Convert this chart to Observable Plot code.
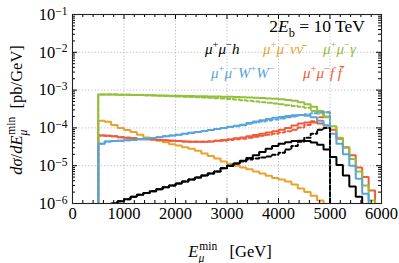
<!DOCTYPE html>
<html><head><meta charset="utf-8">
<script src="https://cdn.jsdelivr.net/npm/d3@7"></script>
<script src="https://cdn.jsdelivr.net/npm/@observablehq/plot@0.6"></script>
<style>
html,body{margin:0;padding:0;background:#fff;}
#chart svg{display:block;}
</style></head><body><div id="chart"></div>
<script>
// ---------- data ----------
const xTicks = [0, 1000, 2000, 3000, 4000, 5000, 6000];
const yTicks = [1e-6, 1e-5, 1e-4, 1e-3, 1e-2, 1e-1];
const binEdges = [500,625,750,875,1000,1125,1250,1375,1500,1625,1750,1875,2000,2125,2250,2375,2500,2625,2750,2875,3000,3125,3250,3375,3500,3625,3750,3875,4000,4125,4250,4375,4500,4625,4750,4875,5000,5125,5250,5375,5500,5625,5750,5875];

// mu+ mu- h
const hSolid = [null,null,1.0e-6,1.15e-6,1.3e-6,1.5e-6,1.7e-6,1.9e-6,2.1e-6,2.4e-6,2.7e-6,3.0e-6,3.4e-6,3.8e-6,4.3e-6,4.9e-6,5.5e-6,6.2e-6,7.0e-6,8.5e-6,1.0e-5,1.15e-5,1.35e-5,1.6e-5,1.9e-5,2.3e-5,2.8e-5,3.3e-5,3.8e-5,4.2e-5,4.5e-5,4.6e-5,4.5e-5,4.1e-5,3.6e-5,2.7e-5,1.7e-5,1.05e-5,5.5e-6,2.8e-6,1.5e-6];
const hDashed = [null,null,1.0e-6,1.15e-6,1.3e-6,1.5e-6,1.7e-6,1.9e-6,2.1e-6,2.4e-6,2.7e-6,3.0e-6,3.4e-6,3.8e-6,4.3e-6,4.9e-6,5.5e-6,6.2e-6,7.0e-6,8.5e-6,1.0e-5,1.15e-5,1.3e-5,1.45e-5,1.55e-5,1.65e-5,1.75e-5,1.95e-5,2.2e-5,2.7e-5,3.3e-5,4.3e-5,5.5e-5,7.0e-5,9.0e-5,1.0e-4];
// mu+ mu- nu nubar
const nnSolid = [1.55e-4,1.45e-4,1.2e-4,1.0e-4,8.8e-5,7.8e-5,6.6e-5,5.6e-5,5.0e-5,4.6e-5,4.2e-5,3.7e-5,3.4e-5,3.1e-5,2.8e-5,2.5e-5,2.1e-5,1.8e-5,1.55e-5,1.3e-5,1.12e-5,1.0e-5,9.0e-6,8.0e-6,7.0e-6,6.2e-6,5.4e-6,4.7e-6,4.3e-6,3.8e-6,3.2e-6,2.5e-6,2.0e-6,1.6e-6,1.2e-6];
// mu+ mu- gamma
const gaSolid = [7.7e-4,7.6e-4,7.6e-4,7.5e-4,7.5e-4,7.4e-4,7.4e-4,7.3e-4,7.3e-4,7.2e-4,7.2e-4,7.1e-4,7.1e-4,7.0e-4,7.0e-4,6.9e-4,6.9e-4,6.8e-4,6.8e-4,6.7e-4,6.7e-4,6.6e-4,6.5e-4,6.4e-4,6.3e-4,6.2e-4,6.0e-4,5.9e-4,5.7e-4,5.5e-4,5.2e-4,4.8e-4,4.2e-4,3.6e-4,2.8e-4,2.0e-4,1.1e-4,5.5e-5,3.0e-5,1.5e-5,7e-6,3e-6,1.2e-6];
const gaDashed = [7.7e-4,7.6e-4,7.6e-4,7.5e-4,7.5e-4,7.4e-4,7.4e-4,7.3e-4,7.2e-4,7.1e-4,7.0e-4,6.9e-4,6.8e-4,6.7e-4,6.6e-4,6.5e-4,6.4e-4,6.3e-4,6.1e-4,6.0e-4,5.8e-4,5.6e-4,5.4e-4,5.2e-4,5.0e-4,4.8e-4,4.6e-4,4.4e-4,4.2e-4,4.0e-4,3.8e-4,3.6e-4,3.4e-4,2.8e-4,2.4e-4,1.9e-4];
// mu+ mu- W+ W-
const wwSolid = [3.8e-5,4.4e-5,4.5e-5,4.6e-5,4.7e-5,4.8e-5,5.0e-5,5.2e-5,5.4e-5,5.7e-5,6.0e-5,6.3e-5,6.6e-5,7.0e-5,7.4e-5,7.8e-5,8.3e-5,8.8e-5,9.4e-5,1.0e-4,1.07e-4,1.14e-4,1.22e-4,1.35e-4,1.48e-4,1.6e-4,1.72e-4,1.85e-4,1.95e-4,2.05e-4,2.15e-4,2.2e-4,2.1e-4,1.9e-4,1.55e-4,1.15e-4,7e-5,3.8e-5,2.0e-5,1.0e-5,4.5e-6,1.8e-6];
const wwDashed = [3.8e-5,4.4e-5,4.5e-5,4.6e-5,4.7e-5,4.8e-5,5.0e-5,5.2e-5,5.4e-5,5.7e-5,6.0e-5,6.3e-5,6.6e-5,7.0e-5,7.4e-5,7.8e-5,8.3e-5,8.8e-5,9.4e-5,1.0e-4,1.05e-4,1.11e-4,1.18e-4,1.28e-4,1.38e-4,1.48e-4,1.58e-4,1.68e-4,1.78e-4,1.9e-4,2.0e-4,2.15e-4,2.3e-4,2.45e-4,2.6e-4,2.6e-4];
// mu+ mu- f fbar
const ffSolid = [6.3e-5,6.2e-5,6.0e-5,5.7e-5,5.5e-5,5.3e-5,5.1e-5,5.0e-5,4.9e-5,4.8e-5,4.7e-5,4.6e-5,4.5e-5,4.4e-5,4.3e-5,4.3e-5,4.3e-5,4.4e-5,4.6e-5,4.8e-5,5.0e-5,5.3e-5,5.6e-5,6.0e-5,6.5e-5,7.0e-5,7.6e-5,8.2e-5,9.0e-5,1.0e-4,1.15e-4,1.3e-4,1.4e-4,1.38e-4,1.3e-4,1.15e-4,9e-5,5.2e-5,3.1e-5,1.9e-5,9e-6,5e-6,2.2e-6];
const ffDashed = [6.3e-5,6.2e-5,6.0e-5,5.7e-5,5.5e-5,5.3e-5,5.1e-5,5.0e-5,4.9e-5,4.8e-5,4.7e-5,4.6e-5,4.5e-5,4.4e-5,4.3e-5,4.3e-5,4.3e-5,4.4e-5,4.6e-5,4.6e-5,4.8e-5,5.0e-5,5.2e-5,5.5e-5,5.8e-5,6.2e-5,6.6e-5,7.0e-5,7.5e-5,8.2e-5,9.0e-5,1.02e-4,1.2e-4,1.5e-4,1.9e-4,2.6e-4];

const colors = {h: "#000000", nn: "#e9a22c", ga: "#93c03a", ww: "#58a5db", ff: "#f15a38"};

// drawing order: first is bottom-most
const seriesList = [
  {values: nnSolid, color: colors.nn, dashed: false},
  {values: ffDashed, color: colors.ff, dashed: true},
  {values: ffSolid, color: colors.ff, dashed: false},
  {values: gaDashed, color: colors.ga, dashed: true},
  {values: gaSolid, color: colors.ga, dashed: false},
  {values: wwDashed, color: colors.ww, dashed: true},
  {values: wwSolid, color: colors.ww, dashed: false},
  {values: hDashed, color: colors.h, dashed: true},
  {values: hSolid, color: colors.h, dashed: false}
];

// legend text
const titleSegs = [{t:"2"},{t:"E",i:1},{t:"b",pos:"sub"},{t:" = 10 TeV"}];
const legendItems = [
  {color: colors.h,  row: 0, x: 205, segs: [{t:"μ",i:1},{t:"+",pos:"sup"},{t:"μ",i:1},{t:"−",pos:"sup"},{t:"h",i:1}]},
  {color: colors.nn, row: 0, x: 263, segs: [{t:"μ",i:1},{t:"+",pos:"sup"},{t:"μ",i:1},{t:"−",pos:"sup"},{t:"νν̄",i:1}]},
  {color: colors.ga, row: 0, x: 323, segs: [{t:"μ",i:1},{t:"+",pos:"sup"},{t:"μ",i:1},{t:"−",pos:"sup"},{t:"γ",i:1}]},
  {color: colors.ww, row: 1, x: 211, segs: [{t:"μ",i:1},{t:"+",pos:"sup"},{t:"μ",i:1},{t:"−",pos:"sup"},{t:"W",i:1},{t:"+",pos:"sup"},{t:"W",i:1},{t:"−",pos:"sup"}]},
  {color: colors.ff, row: 1, x: 303, segs: [{t:"μ",i:1},{t:"+",pos:"sup"},{t:"μ",i:1},{t:"−",pos:"sup"},{t:"f f̄",i:1}]}
];

// ---------- build ----------
const W = 399, H = 263;
const mT = 14, mR = 18, mB = 60, mL = 72;
const fh = H - mT - mB;
const yFloor = yTicks[0] / 10;

function stepPoints(values) {
  const idx = values.map((v, i) => v == null ? -1 : i).filter(i => i >= 0);
  const first = idx[0], last = idx[idx.length - 1];
  const pts = [{x: binEdges[first], y: yFloor}];
  for (let i = first; i <= last; i++) {
    pts.push({x: binEdges[i], y: values[i]}, {x: binEdges[i + 1], y: values[i]});
  }
  pts.push({x: binEdges[last + 1], y: yFloor});
  return pts;
}

const xMinor = d3.range(xTicks[0], xTicks[xTicks.length - 1] + 1, 200).filter(v => v % 1000 !== 0);
const yMinor = [];
for (let k = -6; k <= -2; k++) for (let m = 2; m <= 9; m++) yMinor.push(m * Math.pow(10, k));

const gridCol = "#bdbdbd";
const lineMarks = seriesList.map(s => Plot.line(stepPoints(s.values), {
  x: "x", y: "y", stroke: s.color, strokeWidth: 2,
  strokeDasharray: s.dashed ? "4,2.5" : null, clip: true, strokeLinejoin: "miter"
}));

const chart = Plot.plot({
  width: W, height: H,
  marginTop: mT, marginRight: mR, marginBottom: mB, marginLeft: mL,
  style: {fontFamily: "Liberation Serif, serif", fontSize: "16.5px", color: "#000", background: "#fff"},
  x: {domain: [xTicks[0], xTicks[xTicks.length - 1]]},
  y: {type: "log", domain: [yTicks[0], yTicks[yTicks.length - 1]]},
  marks: [
    Plot.ruleX(xTicks.slice(1, -1), {stroke: gridCol, strokeDasharray: "1.2,2", strokeWidth: 1}),
    Plot.ruleY(yTicks.slice(1, -1), {stroke: gridCol, strokeDasharray: "1.2,2", strokeWidth: 1}),
    ...lineMarks,
    // inward ticks
    Plot.ruleX(xTicks, {insetTop: fh - 5, stroke: "#000"}),
    Plot.ruleX(xTicks, {insetBottom: fh - 5, stroke: "#000"}),
    Plot.ruleX(xMinor, {insetTop: fh - 3, stroke: "#000"}),
    Plot.ruleX(xMinor, {insetBottom: fh - 3, stroke: "#000"}),
    Plot.tickY(yTicks, {y: d => d, stroke: "#000", insetRight: W - mL - mR - 5}),
    Plot.tickY(yTicks, {y: d => d, stroke: "#000", insetLeft: W - mL - mR - 5}),
    Plot.tickY(yMinor, {y: d => d, stroke: "#000", insetRight: W - mL - mR - 3}),
    Plot.tickY(yMinor, {y: d => d, stroke: "#000", insetLeft: W - mL - mR - 3}),
    Plot.frame({stroke: "#222", strokeWidth: 1.1}),
    Plot.axisX(xTicks, {tickSize: 0, tickPadding: 4, tickFormat: d => String(d), label: null}),
    Plot.axisY(yTicks, {tickSize: 0, tickPadding: 5, tickFormat: d => String(Math.round(Math.log10(d))), label: null})
  ]
});
document.getElementById("chart").appendChild(chart);

const svg = d3.select(chart);

// y tick labels as 10^k
svg.selectAll('g[aria-label="y-axis tick label"] text').each(function() {
  const k = this.textContent.trim();
  const t = d3.select(this);
  t.text(null);
  t.append("tspan").text("10");
  t.append("tspan").attr("dy", "-0.45em").attr("font-size", "11.5px").text("−" + k.replace("-", ""));
});

function rich(sel, segs, size) {
  let shift = 0;
  for (const s of segs) {
    const target = s.pos === "sup" ? -0.42 * size : s.pos === "sub" ? 0.28 * size : 0;
    const t = sel.append("tspan").text(s.t)
      .attr("font-style", s.i ? "italic" : "normal")
      .attr("font-size", (s.pos ? size * 0.7 : size) + "px")
      .attr("dy", target - shift);
    if (s.dx != null) t.attr("dx", s.dx);
    shift = target;
  }
}

const ann = svg.append("g").attr("font-family", "Liberation Serif, serif");

// title
rich(ann.append("text").attr("x", W - mR - 16).attr("y", 32).attr("text-anchor", "end").attr("fill", "#000"), titleSegs, 17.5);

// legend
for (const it of legendItems) {
  rich(ann.append("text").attr("x", it.x).attr("y", it.row === 0 ? 54 : 78)
    .attr("text-anchor", "start").attr("fill", it.color), it.segs, 15);
}

// x label
rich(ann.append("text").attr("x", 230).attr("y", 257).attr("text-anchor", "middle").attr("fill", "#000"),
  [{t:"E",i:1},{t:"μ",i:1,pos:"sub"},{t:"min",pos:"sup",dx:-5},{t:"   [GeV]"}], 16.5);

// y label
rich(ann.append("text").attr("transform", "translate(22,110) rotate(-90)").attr("text-anchor", "middle").attr("fill", "#000"),
  [{t:"dσ",i:1},{t:"/"},{t:"dE",i:1},{t:"μ",i:1,pos:"sub"},{t:"min",pos:"sup",dx:-5},{t:"  [pb/GeV]"}], 16.5);
</script>
</body></html>
